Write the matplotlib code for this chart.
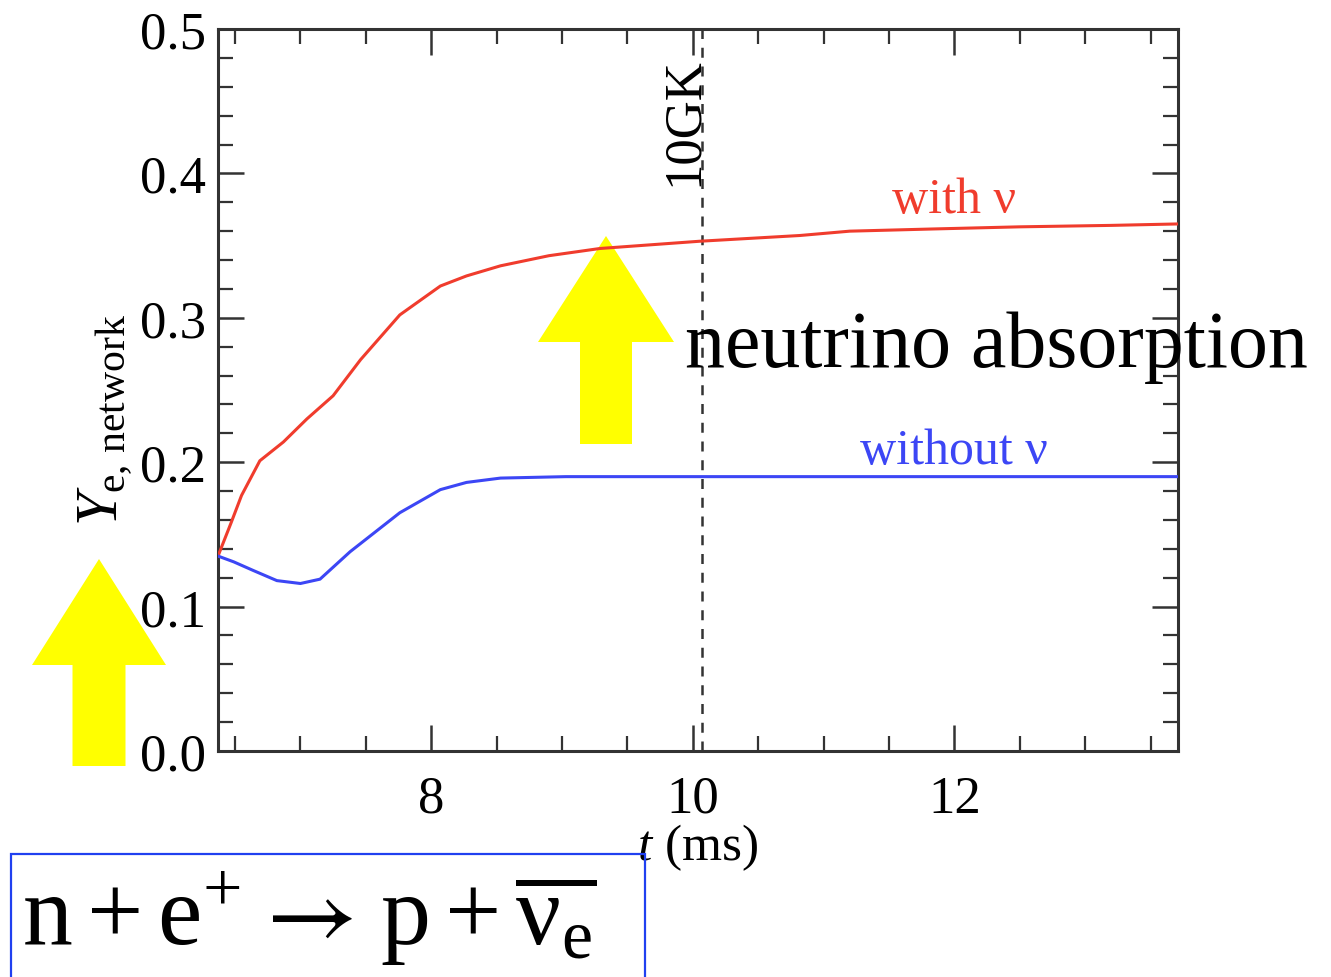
import numpy as np
import matplotlib
matplotlib.use("Agg")
import matplotlib.pyplot as plt
from matplotlib.ticker import MultipleLocator, FormatStrFormatter
from matplotlib.patches import Polygon, Rectangle

# fuentes tipo Times
plt.rcParams['font.family'] = ['Liberation Serif', 'DejaVu Serif']
plt.rcParams['mathtext.fontset'] = 'custom'
plt.rcParams['mathtext.rm'] = 'Liberation Serif'
plt.rcParams['mathtext.it'] = 'Liberation Serif:italic'
plt.rcParams['mathtext.bf'] = 'Liberation Serif:bold'

# datos
t_con_nu = [6.37, 6.47, 6.55, 6.69, 6.87, 7.05, 7.25, 7.46, 7.76, 8.07, 8.27,
            8.53, 8.90, 9.29, 10.05, 10.82, 11.20, 11.83, 12.50, 13.20, 13.71]
ye_con_nu = [0.135, 0.158, 0.177, 0.201, 0.214, 0.230, 0.246, 0.271, 0.302, 0.322, 0.329,
             0.336, 0.343, 0.348, 0.353, 0.357, 0.360, 0.3615, 0.363, 0.364, 0.365]

t_sin_nu = [6.37, 6.49, 6.64, 6.82, 7.00, 7.15, 7.38, 7.76, 8.07, 8.27, 8.53,
            9.03, 10.0, 12.0, 13.71]
ye_sin_nu = [0.135, 0.131, 0.125, 0.118, 0.116, 0.119, 0.138, 0.165, 0.181, 0.186, 0.189,
             0.190, 0.190, 0.190, 0.190]

t_10GK = 10.07
x_ticks = [8, 10, 12]
y_ticks = [0.0, 0.1, 0.2, 0.3, 0.4, 0.5]

rojo = '#f03c2d'
azul = '#3c46f5'
amarillo = '#ffff00'

W, H = 1331, 978
fig = plt.figure(figsize=(W / 100, H / 100), dpi=100)
ax = fig.add_axes([218 / W, 1 - 752 / H, 960 / W, 722 / H])

ax.plot(t_con_nu, ye_con_nu, color=rojo, lw=2.2, zorder=3)
ax.plot(t_sin_nu, ye_sin_nu, color=azul, lw=2.2, zorder=3)
ax.axvline(t_10GK, color='#333333', lw=1.8, ls=(0, (4, 3.5)), zorder=2)

ax.text(12.0, 0.382, 'with ν', color=rojo, fontsize=36, ha='center', va='center')
ax.text(12.0, 0.208, 'without ν', color=azul, fontsize=36, ha='center', va='center')
ax.text(t_10GK - 0.035, 0.481, '10GK', rotation=90, rotation_mode='anchor',
        ha='right', va='baseline', fontsize=38)

ax.set_xlim(6.37, 13.71)
ax.set_ylim(0, 0.5)
ax.set_xticks(x_ticks)
ax.set_yticks(y_ticks)
ax.xaxis.set_minor_locator(MultipleLocator(0.5))
ax.yaxis.set_minor_locator(MultipleLocator(0.02))
ax.yaxis.set_major_formatter(FormatStrFormatter('%.1f'))
ax.tick_params(which='both', direction='in', top=True, right=True,
               color='#333333', labelsize=38)
ax.tick_params(which='major', length=19, width=1.8)
ax.tick_params(which='minor', length=10.5, width=1.6)
ax.tick_params(axis='x', pad=17)
ax.tick_params(axis='y', pad=9)
for s in ax.spines.values():
    s.set_linewidth(2.2)
    s.set_color('#333333')

ax.set_xlabel('$t$ (ms)', fontsize=37)
ax.xaxis.set_label_coords(0.5, -0.097)
ax.set_ylabel(r'$Y_{\mathrm{e,\,network}}$', fontsize=43)
ax.yaxis.set_label_coords(-0.088, 0.46)

# flechas amarillas (en pixeles de la figura)
def flecha(x_punta, y_punta, ancho_cabeza, largo_cabeza, ancho_cuerpo, largo):
    yb = y_punta + largo_cabeza
    yf = y_punta + largo
    pts = [(x_punta, y_punta), (x_punta + ancho_cabeza / 2, yb),
           (x_punta + ancho_cuerpo / 2, yb), (x_punta + ancho_cuerpo / 2, yf),
           (x_punta - ancho_cuerpo / 2, yf), (x_punta - ancho_cuerpo / 2, yb),
           (x_punta - ancho_cabeza / 2, yb)]
    pts = [(x / 100, (H - y) / 100) for x, y in pts]
    return Polygon(pts, closed=True, facecolor=amarillo, edgecolor='none',
                   transform=fig.dpi_scale_trans, clip_on=False, zorder=1)

ax.add_patch(flecha(99, 560, 134, 106, 53, 207))
ax.add_patch(flecha(606, 237, 136, 106, 52, 208))

fig.text(685 / W, 1 - 367 / H, 'neutrino absorption', fontsize=57.5,
         ha='left', va='baseline')

# reaccion en el recuadro
fig.patches.append(Rectangle((11 / W, -0.05), 634 / W, (H - 855) / H + 0.05,
                             transform=fig.transFigure, fill=False,
                             edgecolor='#2040f0', lw=1.6))
y_base = 1 - 945 / H
fig.text(22 / W, y_base, r'$\mathrm{n + e^{+}}$', fontsize=72,
         ha='left', va='baseline')
fig.text(266 / W, y_base, '→', family='STIXGeneral', fontsize=72,
         ha='left', va='baseline')
fig.text(380 / W, y_base, r'$\mathrm{p + \overline{ν_{e}}}$', fontsize=72,
         ha='left', va='baseline')

fig.savefig('out.png', dpi=100)
